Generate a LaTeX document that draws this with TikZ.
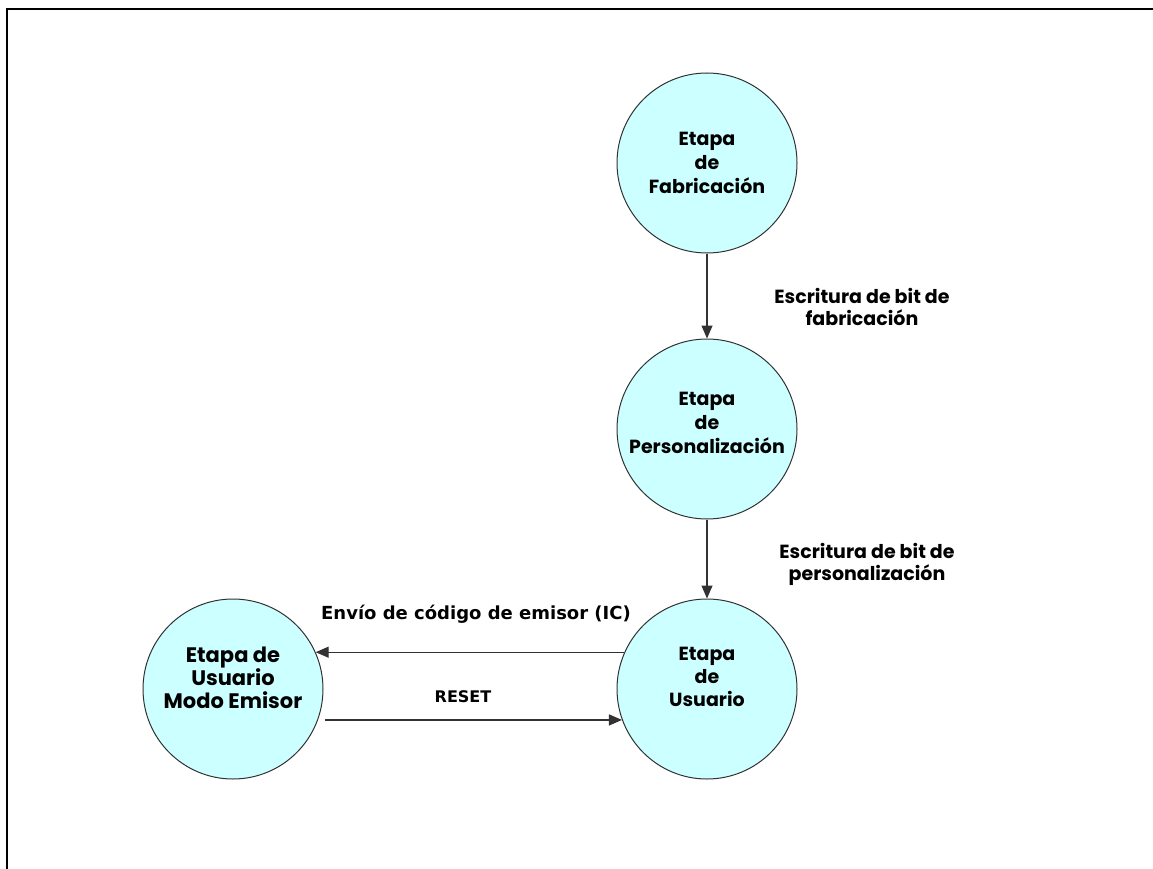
\documentclass[tikz,border=0pt]{standalone}
\usepackage{fontspec}
\setmainfont{Poppins}[BoldFont={* Bold}]
\newfontfamily\labfont{DejaVu Sans}[BoldFont={* Bold}]
\usetikzlibrary{arrows.meta}
\definecolor{stagefill}{RGB}{204,255,255}
\definecolor{edgegray}{RGB}{50,50,50}
\begin{document}
\begin{tikzpicture}[x=1pt,y=-1pt,
  stage/.style={circle, draw=edgegray, line width=1pt, fill=stagefill,
    minimum size=180pt, inner sep=0pt, align=center,
    font=\fontsize{19}{24}\selectfont\bfseries},
  lbl/.style={align=center, font=\fontsize{19}{22}\selectfont\bfseries},
  lblb/.style={align=center, font=\labfont\fontsize{18}{22}\selectfont\bfseries},
  conn/.style={draw=edgegray, line width=1.3pt,
    -{Triangle[length=13pt,width=11pt]}}]
\useasboundingbox (0,0) rectangle (1153,869);
\draw[line width=2.5pt] (7,869) -- (7,9) -- (1153,9);
\node[stage] (F) at (707,163) {Etapa\\de\\Fabricación};
\node[stage, text depth=12pt] (P) at (707,429) {Etapa\\de\\Personalización};
\node[stage, text depth=25pt, font=\fontsize{19}{23}\selectfont\bfseries] (U) at (707,689) {Etapa\\de\\Usuario};
\node[stage, text depth=22pt, font=\fontsize{21}{23}\selectfont\bfseries] (E) at (233,689) {Etapa de\\Usuario\\Modo Emisor};
\draw[conn] (F) -- (P);
\draw[conn] (P) -- (U);
\draw[conn] (U.156) -- (E.24);
\draw[conn, shorten <=7pt] (E.-20) -- (U.200);
\node[lbl] (l1) at (862,307) {Escritura de bit de\\fabricación};
\node[lbl] (l2) at (867,564) {Escritura de bit de\\personalización};
\node[lblb] (l3) at (476,614) {Envío de código de emisor (IC)};
\node[lblb, font=\labfont\fontsize{16}{18}\selectfont\bfseries] (l4) at (463,697) {RESET};
\end{tikzpicture}
\end{document}
